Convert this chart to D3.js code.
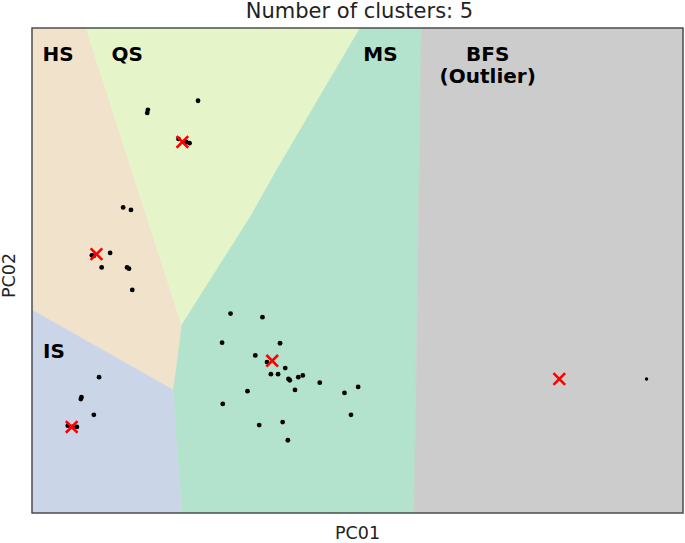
<!DOCTYPE html>
<html>
<head>
<meta charset="utf-8">
<script src="https://cdn.jsdelivr.net/npm/d3@7"></script>
<style>
  body { margin: 0; background: #fff; }
  text { font-family: "DejaVu Sans", sans-serif; }
</style>
</head>
<body>
<div id="chart"></div>
<script>
// cluster names and region colours (Pastel2)
var clusters = ["HS", "QS", "MS", "IS", "BFS"];
var regionColors = ["#f1e2cc", "#e6f5c9", "#b3e2cd", "#cbd5e8", "#cccccc"];

// decision regions, boundary vertices in (PC01, PC02)
var regionHS = [[0, 8], [0.83, 8], [2.30, 3.10], [2.27, 2.80], [2.22, 2.41], [2.17, 2.03], [0, 3.35]];
var regionQS = [[0.83, 8], [5.04, 8], [3.76, 5.66], [3.35, 4.88], [2.30, 3.10]];
var regionMS = [[5.04, 8], [5.98, 8], [5.87, 0], [2.30, 0], [2.25, 0.76], [2.20, 1.32], [2.17, 2.03],
                [2.22, 2.41], [2.27, 2.80], [2.30, 3.10], [3.35, 4.88], [3.76, 5.66]];
var regionIS = [[0, 3.35], [2.17, 2.03], [2.20, 1.32], [2.25, 0.76], [2.30, 0], [0, 0]];
var regionBFS = [[5.98, 8], [10, 8], [10, 0], [5.87, 0]];

// samples (PC01, PC02)
var pointsHS = [[1.40, 5.04], [1.52, 5.00], [0.92, 4.25], [0.95, 4.24], [1.20, 4.29],
                [1.07, 4.05], [1.46, 4.05], [1.49, 4.03], [1.54, 3.68]];
var pointsQS = [[2.55, 6.80], [1.78, 6.65], [1.77, 6.60], [2.42, 6.10], [2.25, 6.17], [2.37, 6.12]];
var pointsMS = [[3.05, 3.29], [3.54, 3.23], [2.92, 2.81], [3.81, 2.80], [3.43, 2.60], [3.61, 2.49],
                [3.89, 2.39], [3.67, 2.29], [3.78, 2.29], [3.94, 2.21], [3.96, 2.19], [4.09, 2.24],
                [4.16, 2.27], [4.04, 2.03], [4.42, 2.15], [4.80, 1.98], [5.01, 2.08], [4.90, 1.62],
                [3.31, 2.01], [2.93, 1.80], [3.85, 1.50], [3.49, 1.45], [3.93, 1.20]];
var pointsIS = [[1.03, 2.24], [0.76, 1.91], [0.75, 1.88], [0.95, 1.62], [0.69, 1.42], [0.55, 1.44], [0.62, 1.42]];
var pointsBFS = [[9.44, 2.21]];

// cluster centres
var centroids = [[0.99, 4.27], [2.31, 6.12], [3.69, 2.51], [0.61, 1.42], [8.10, 2.21]];

// region labels and where they sit
var labelText = ["HS", "QS", "MS", "IS", "BFS", "(Outlier)"];
var labelPos = [[0.16, 7.46], [1.22, 7.46], [5.09, 7.46], [0.17, 2.56], [7.00, 7.46], [7.00, 7.10]];

var margin = { top: 28, right: 2, bottom: 30, left: 32 },
    width = 685 - margin.left - margin.right,
    height = 543 - margin.top - margin.bottom;

var svg = d3.select("#chart")
    .append("svg")
    .attr("width", 685)
    .attr("height", 543)
    .append("g")
    .attr("transform", "translate(" + margin.left + "," + margin.top + ")");

var x = d3.scaleLinear().domain([0, 10]).range([0, width]);
var y = d3.scaleLinear().domain([0, 8]).range([height, 0]);

var line = d3.line()
    .x(function (d) { return x(d[0]); })
    .y(function (d) { return y(d[1]); });

// regions
var regions = [regionHS, regionQS, regionMS, regionIS, regionBFS];
svg.append("g")
    .selectAll("path")
    .data(regions)
    .enter()
    .append("path")
    .attr("d", function (d) { return line(d) + "Z"; })
    .attr("fill", function (d, i) { return regionColors[i]; })
    .attr("stroke", function (d, i) { return regionColors[i]; })
    .attr("stroke-width", 0.6);

// samples
var allPoints = pointsHS.concat(pointsQS, pointsMS, pointsIS);
svg.append("g")
    .selectAll("circle")
    .data(allPoints)
    .enter()
    .append("circle")
    .attr("cx", function (d) { return x(d[0]); })
    .attr("cy", function (d) { return y(d[1]); })
    .attr("r", 2.4)
    .attr("fill", "#000");

svg.append("g")
    .selectAll("circle")
    .data(pointsBFS)
    .enter()
    .append("circle")
    .attr("cx", function (d) { return x(d[0]); })
    .attr("cy", function (d) { return y(d[1]); })
    .attr("r", 1.7)
    .attr("fill", "#000");

// centroids as red crosses
var cross = d3.symbol().type(d3.symbolTimes).size(90);
svg.append("g")
    .selectAll("path")
    .data(centroids)
    .enter()
    .append("path")
    .attr("d", cross)
    .attr("transform", function (d) { return "translate(" + x(d[0]) + "," + y(d[1]) + ")"; })
    .attr("fill", "none")
    .attr("stroke", "#ff0000")
    .attr("stroke-width", 2.6);

// labels
svg.append("g")
    .selectAll("text")
    .data(labelText)
    .enter()
    .append("text")
    .text(function (d) { return d; })
    .attr("x", function (d, i) { return x(labelPos[i][0]); })
    .attr("y", function (d, i) { return y(labelPos[i][1]); })
    .attr("text-anchor", function (d, i) { return i >= 4 ? "middle" : "start"; })
    .style("font-weight", "bold")
    .style("font-size", "20px")
    .style("fill", "#000");

// frame
svg.append("rect")
    .attr("x", 0)
    .attr("y", 0)
    .attr("width", width)
    .attr("height", height)
    .attr("fill", "none")
    .attr("stroke", "#444")
    .attr("stroke-width", 1.4);

// title and axis labels
svg.append("text")
    .text("Number of clusters: 5")
    .attr("x", width / 2 + 2)
    .attr("y", -10.5)
    .attr("text-anchor", "middle")
    .style("font-size", "21px")
    .style("fill", "#222");

svg.append("text")
    .text("PC01")
    .attr("x", width / 2)
    .attr("y", height + 26)
    .attr("text-anchor", "middle")
    .style("font-size", "17.5px")
    .style("fill", "#222");

svg.append("text")
    .text("PC02")
    .attr("transform", "translate(" + (-17) + "," + (height / 2 + 5) + ")rotate(-90)")
    .attr("text-anchor", "middle")
    .style("font-size", "17.5px")
    .style("fill", "#222");
</script>
</body>
</html>
